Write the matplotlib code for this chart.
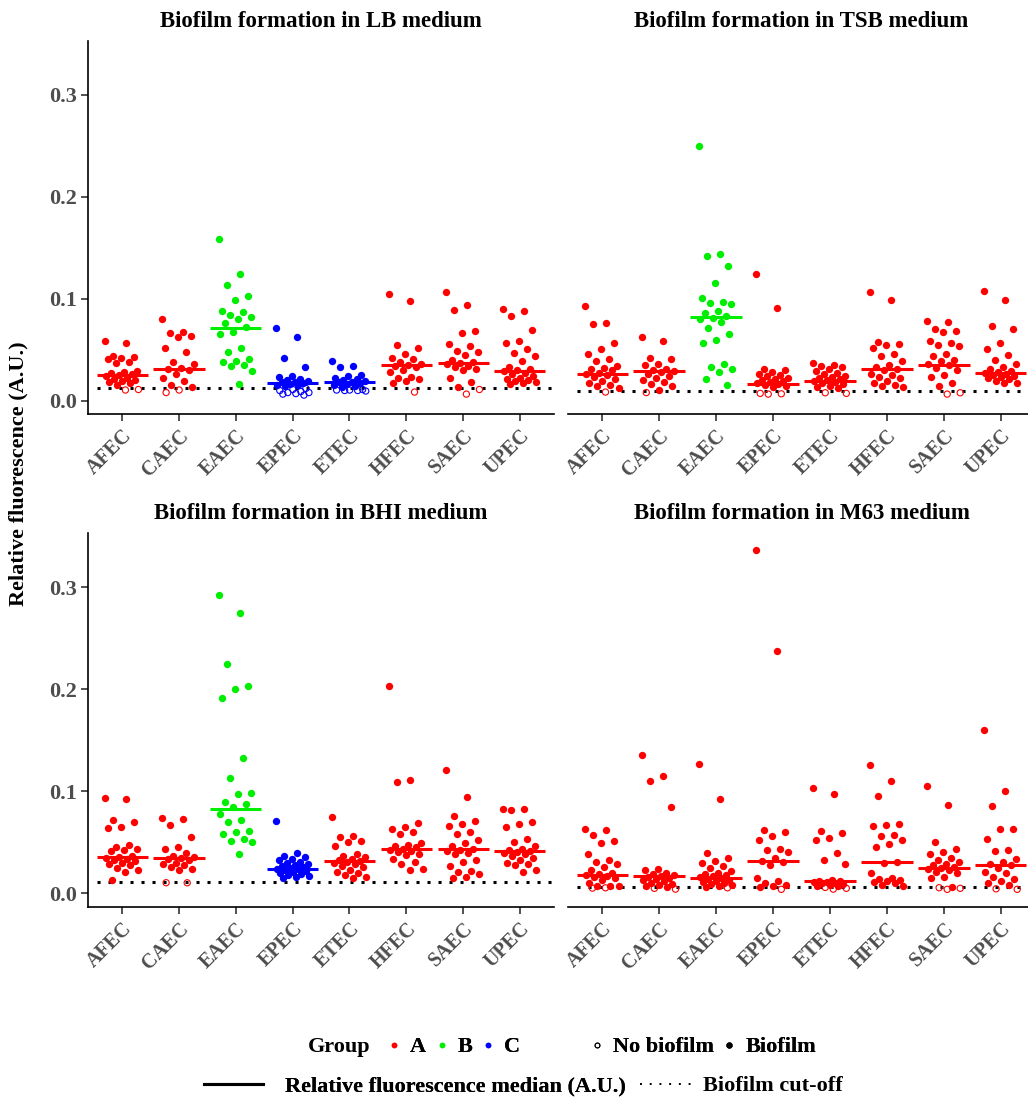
import numpy as np
import matplotlib
matplotlib.use('Agg')
import matplotlib.pyplot as plt
import matplotlib.transforms as mtransforms
from matplotlib.lines import Line2D

plt.rcParams['font.family'] = ['Liberation Serif', 'DejaVu Serif']
plt.rcParams['font.weight'] = 'bold'

categories = ['AFEC', 'CAEC', 'EAEC', 'EPEC', 'ETEC', 'HFEC', 'SAEC', 'UPEC']
group_colors = {'A': '#FF0000', 'B': '#00EE00', 'C': '#0000FF'}

# relative fluorescence per isolate
lb = {
    'AFEC': [0.059, 0.057, 0.044, 0.043, 0.042, 0.041, 0.038, 0.037, 0.029, 0.028, 0.027, 0.026,
             0.025, 0.024, 0.022, 0.021, 0.020, 0.019, 0.018, 0.017, 0.015, 0.011, 0.0105],
    'CAEC': [0.080, 0.067, 0.066, 0.063, 0.062, 0.052, 0.048, 0.038, 0.036, 0.032, 0.031, 0.030,
             0.026, 0.022, 0.019, 0.015, 0.013, 0.0105, 0.008],
    'EAEC': [0.159, 0.124, 0.113, 0.103, 0.099, 0.088, 0.087, 0.084, 0.082, 0.080, 0.076, 0.072,
             0.067, 0.065, 0.052, 0.048, 0.041, 0.039, 0.038, 0.035, 0.034, 0.029, 0.016],
    'EPEC': [0.071, 0.062, 0.042, 0.033, 0.024, 0.023, 0.021, 0.020, 0.019, 0.018, 0.018, 0.017,
             0.016, 0.015, 0.015, 0.014, 0.012, 0.011, 0.010, 0.009, 0.008, 0.008, 0.007, 0.0065, 0.0055],
    'ETEC': [0.039, 0.034, 0.033, 0.025, 0.024, 0.022, 0.021, 0.020, 0.019, 0.018, 0.018, 0.017,
             0.016, 0.015, 0.014, 0.013, 0.011, 0.0105, 0.0105, 0.010, 0.010, 0.0095],
    'HFEC': [0.105, 0.098, 0.055, 0.052, 0.046, 0.042, 0.041, 0.038, 0.036, 0.035, 0.034, 0.033,
             0.030, 0.028, 0.023, 0.022, 0.021, 0.019, 0.017, 0.0085],
    'SAEC': [0.107, 0.094, 0.089, 0.068, 0.066, 0.056, 0.054, 0.049, 0.048, 0.045, 0.040, 0.038,
             0.037, 0.036, 0.034, 0.033, 0.031, 0.030, 0.022, 0.018, 0.013, 0.011, 0.0065],
    'UPEC': [0.090, 0.088, 0.083, 0.069, 0.059, 0.057, 0.051, 0.047, 0.044, 0.039, 0.033, 0.031,
             0.030, 0.029, 0.027, 0.026, 0.024, 0.022, 0.021, 0.020, 0.019, 0.018, 0.017, 0.016],
}
tsb = {
    'AFEC': [0.093, 0.076, 0.075, 0.057, 0.051, 0.046, 0.041, 0.039, 0.034, 0.032, 0.031, 0.030,
             0.027, 0.026, 0.025, 0.023, 0.021, 0.019, 0.017, 0.015, 0.014, 0.012, 0.0085],
    'CAEC': [0.062, 0.059, 0.042, 0.041, 0.036, 0.035, 0.031, 0.030, 0.029, 0.028, 0.026, 0.024,
             0.022, 0.020, 0.018, 0.016, 0.014, 0.011, 0.008],
    'EAEC': [0.250, 0.144, 0.142, 0.132, 0.115, 0.101, 0.097, 0.096, 0.095, 0.088, 0.086, 0.083,
             0.081, 0.080, 0.077, 0.071, 0.065, 0.060, 0.057, 0.036, 0.033, 0.031, 0.028, 0.021, 0.015],
    'EPEC': [0.124, 0.091, 0.031, 0.030, 0.028, 0.026, 0.025, 0.024, 0.022, 0.021, 0.020, 0.019,
             0.018, 0.017, 0.016, 0.015, 0.014, 0.013, 0.0072, 0.0068, 0.0065],
    'ETEC': [0.037, 0.035, 0.034, 0.033, 0.031, 0.029, 0.027, 0.026, 0.024, 0.023, 0.022, 0.021,
             0.020, 0.019, 0.018, 0.017, 0.016, 0.014, 0.013, 0.012, 0.0078, 0.0072],
    'HFEC': [0.107, 0.099, 0.058, 0.056, 0.055, 0.052, 0.046, 0.044, 0.039, 0.035, 0.033, 0.031,
             0.030, 0.026, 0.025, 0.023, 0.022, 0.019, 0.017, 0.015, 0.014, 0.013],
    'SAEC': [0.078, 0.077, 0.070, 0.068, 0.067, 0.059, 0.057, 0.055, 0.054, 0.046, 0.044, 0.040,
             0.039, 0.036, 0.035, 0.032, 0.030, 0.025, 0.023, 0.017, 0.014, 0.0078, 0.0065],
    'UPEC': [0.108, 0.099, 0.073, 0.070, 0.057, 0.051, 0.045, 0.040, 0.036, 0.033, 0.031, 0.029,
             0.028, 0.027, 0.026, 0.025, 0.024, 0.023, 0.022, 0.021, 0.019, 0.017, 0.017],
}
bhi = {
    'AFEC': [0.093, 0.092, 0.072, 0.070, 0.065, 0.064, 0.047, 0.045, 0.044, 0.043, 0.042, 0.037,
             0.036, 0.035, 0.034, 0.033, 0.032, 0.030, 0.029, 0.028, 0.025, 0.023, 0.021, 0.013],
    'CAEC': [0.074, 0.073, 0.067, 0.055, 0.045, 0.044, 0.040, 0.037, 0.036, 0.035, 0.034, 0.033,
             0.030, 0.029, 0.028, 0.026, 0.024, 0.023, 0.0105, 0.0104],
    'EAEC': [0.292, 0.275, 0.225, 0.203, 0.200, 0.191, 0.133, 0.113, 0.098, 0.097, 0.090, 0.088,
             0.085, 0.078, 0.072, 0.070, 0.061, 0.060, 0.058, 0.053, 0.051, 0.050, 0.039],
    'EPEC': [0.071, 0.040, 0.037, 0.036, 0.034, 0.033, 0.031, 0.030, 0.029, 0.028, 0.027, 0.026,
             0.025, 0.024, 0.024, 0.023, 0.022, 0.021, 0.020, 0.019, 0.018, 0.017, 0.016, 0.015],
    'ETEC': [0.075, 0.056, 0.055, 0.051, 0.050, 0.046, 0.039, 0.037, 0.036, 0.034, 0.033, 0.032,
             0.031, 0.030, 0.029, 0.027, 0.026, 0.023, 0.021, 0.020, 0.018, 0.016, 0.015],
    'HFEC': [0.203, 0.111, 0.109, 0.069, 0.065, 0.063, 0.060, 0.058, 0.049, 0.047, 0.046, 0.045,
             0.044, 0.043, 0.042, 0.041, 0.039, 0.038, 0.034, 0.031, 0.029, 0.024, 0.023],
    'SAEC': [0.121, 0.094, 0.076, 0.071, 0.068, 0.066, 0.060, 0.058, 0.052, 0.049, 0.046, 0.044,
             0.043, 0.042, 0.040, 0.039, 0.033, 0.031, 0.027, 0.022, 0.021, 0.019, 0.016, 0.015],
    'UPEC': [0.083, 0.083, 0.082, 0.070, 0.068, 0.065, 0.053, 0.050, 0.046, 0.044, 0.043, 0.042,
             0.041, 0.040, 0.039, 0.037, 0.035, 0.033, 0.030, 0.029, 0.028, 0.023, 0.021],
}
m63 = {
    'AFEC': [0.063, 0.062, 0.057, 0.051, 0.049, 0.039, 0.033, 0.031, 0.029, 0.026, 0.023, 0.020,
             0.019, 0.018, 0.017, 0.016, 0.015, 0.013, 0.010, 0.0075, 0.007, 0.0068, 0.0055, 0.0052],
    'CAEC': [0.136, 0.115, 0.110, 0.085, 0.024, 0.023, 0.020, 0.019, 0.018, 0.017, 0.016, 0.015,
             0.014, 0.013, 0.012, 0.010, 0.009, 0.008, 0.0068, 0.0066, 0.005, 0.0042],
    'EAEC': [0.127, 0.092, 0.040, 0.035, 0.032, 0.030, 0.027, 0.025, 0.022, 0.020, 0.019, 0.018,
             0.017, 0.016, 0.015, 0.014, 0.013, 0.012, 0.011, 0.010, 0.009, 0.008, 0.0068, 0.0066, 0.0055],
    'EPEC': [0.336, 0.237, 0.062, 0.060, 0.056, 0.052, 0.044, 0.043, 0.041, 0.035, 0.032, 0.031,
             0.028, 0.015, 0.012, 0.010, 0.008, 0.007, 0.0066, 0.004],
    'ETEC': [0.103, 0.097, 0.061, 0.059, 0.054, 0.052, 0.040, 0.033, 0.029, 0.013, 0.012, 0.012,
             0.011, 0.011, 0.010, 0.010, 0.009, 0.008, 0.0075, 0.007, 0.0059, 0.005, 0.0042],
    'HFEC': [0.126, 0.110, 0.095, 0.068, 0.067, 0.066, 0.057, 0.056, 0.052, 0.048, 0.045, 0.031,
             0.030, 0.020, 0.015, 0.014, 0.013, 0.012, 0.011, 0.010, 0.008, 0.007],
    'SAEC': [0.105, 0.087, 0.050, 0.044, 0.041, 0.039, 0.035, 0.033, 0.031, 0.029, 0.028, 0.026,
             0.025, 0.024, 0.023, 0.021, 0.020, 0.016, 0.015, 0.0065, 0.0056, 0.005, 0.004],
    'UPEC': [0.160, 0.100, 0.086, 0.063, 0.063, 0.053, 0.043, 0.042, 0.034, 0.031, 0.029, 0.028,
             0.025, 0.021, 0.020, 0.016, 0.014, 0.012, 0.010, 0.008, 0.0045, 0.004],
}

lb_medians = [0.0255, 0.031, 0.0716, 0.017, 0.018, 0.035, 0.037, 0.029]
tsb_medians = [0.026, 0.029, 0.082, 0.016, 0.0196, 0.031, 0.035, 0.027]
bhi_medians = [0.036, 0.035, 0.083, 0.024, 0.032, 0.044, 0.044, 0.042]
m63_medians = [0.018, 0.017, 0.015, 0.032, 0.012, 0.031, 0.025, 0.028]

lb_groups = ['A', 'A', 'B', 'C', 'C', 'A', 'A', 'A']
tsb_groups = ['A', 'A', 'B', 'A', 'A', 'A', 'A', 'A']
bhi_groups = ['A', 'A', 'B', 'C', 'A', 'A', 'A', 'A']
m63_groups = ['A'] * 8

cutoffs = [0.0124, 0.0098, 0.0114, 0.0062]
titles = ['Biofilm formation in LB medium', 'Biofilm formation in TSB medium',
          'Biofilm formation in BHI medium', 'Biofilm formation in M63 medium']

W, H = 1028, 1102
TICK_COLOR = '#4D4D4D'


def px_axes(fig, x0, x1, y0, y1):
    return fig.add_axes([x0 / W, 1 - y1 / H, (x1 - x0) / W, (y1 - y0) / H])


def draw_panel(fig, ax, values, medians, groups, cutoff, title, show_y):
    for i, (cat, grp) in enumerate(zip(categories, groups)):
        v = np.array(values[cat])
        offs = ((np.arange(len(v)) * 0.618034) % 1 - 0.5) * 0.6
        col = group_colors[grp]
        filled = v >= cutoff
        ax.scatter(i + offs[filled], v[filled], s=28, color=col, linewidths=0, zorder=3)
        ax.scatter(i + offs[~filled], v[~filled], s=20, facecolors='none', edgecolors=col,
                   linewidths=0.8, zorder=3)
        ax.plot([i - 0.45, i + 0.45], [medians[i]] * 2, color=col, lw=2.2,
                solid_capstyle='butt', zorder=4)
    ax.axhline(cutoff, xmin=0.02, color='black', lw=2.2, ls=(0, (1, 2.6)),
               dash_capstyle='butt', zorder=2)
    ax.set_xlim(-0.6, 7.6)
    ax.set_ylim(-0.013, 0.353)
    ax.set_xticks(range(len(categories)))
    ax.set_xticklabels(categories, rotation=45, ha='right', rotation_mode='anchor',
                       fontsize=14.5, color=TICK_COLOR)
    shift = mtransforms.ScaledTranslation(7 / 72, 0, fig.dpi_scale_trans)
    for lab in ax.get_xticklabels():
        lab.set_transform(lab.get_transform() + shift)
    ax.set_yticks([0.0, 0.1, 0.2, 0.3])
    ax.set_yticklabels(['0.0', '0.1', '0.2', '0.3'], fontsize=16, color=TICK_COLOR)
    ax.tick_params(length=5, width=1.2, color='#333333')
    ax.tick_params(axis='y', pad=3)
    for s in ['top', 'right']:
        ax.spines[s].set_visible(False)
    ax.spines['bottom'].set_linewidth(1.2)
    ax.spines['left'].set_linewidth(1.2)
    if not show_y:
        ax.spines['left'].set_visible(False)
        ax.tick_params(axis='y', left=False, labelleft=False)
    ax.set_title(title, fontsize=16.5, fontweight='bold', pad=10)


fig = plt.figure(figsize=(W / 100, H / 100), dpi=100)
ax_lb = px_axes(fig, 88, 554, 40.6, 414)
ax_tsb = px_axes(fig, 568, 1035, 40.6, 414)
ax_bhi = px_axes(fig, 88, 554, 533, 906.7)
ax_m63 = px_axes(fig, 568, 1035, 533, 906.7)

draw_panel(fig, ax_lb, lb, lb_medians, lb_groups, cutoffs[0], titles[0], True)
draw_panel(fig, ax_tsb, tsb, tsb_medians, tsb_groups, cutoffs[1], titles[1], False)
draw_panel(fig, ax_bhi, bhi, bhi_medians, bhi_groups, cutoffs[2], titles[2], True)
draw_panel(fig, ax_m63, m63, m63_medians, m63_groups, cutoffs[3], titles[3], False)

fig.text(18 / W, 1 - 474 / H, 'Relative fluorescence (A.U.)', rotation=90,
         ha='center', va='center', fontsize=16, fontweight='bold')

LEG_FS = 16
leg_kw = dict(frameon=False, fontsize=LEG_FS, loc='center left', borderpad=0, borderaxespad=0)

# legend row 1
fig.text(308 / W, 1 - 1047 / H, 'Group', ha='left', va='center', fontsize=LEG_FS,
         fontweight='bold')
grp_handles = [Line2D([], [], ls='none', marker='o', ms=3, color=group_colors[g]) for g in 'ABC']
leg_grp = fig.legend(grp_handles, ['A', 'B', 'C'], ncol=3, bbox_to_anchor=(385 / W, 1 - 1047 / H),
                     handlelength=0.8, handletextpad=0.32, columnspacing=0.3, **leg_kw)
bio_handles = [Line2D([], [], ls='none', marker='o', ms=3.5, mfc='none', mec='black', mew=0.7),
               Line2D([], [], ls='none', marker='o', ms=3.5, color='black')]
leg_bio = fig.legend(bio_handles, ['No biofilm', 'Biofilm'], ncol=2,
                     bbox_to_anchor=(588 / W, 1 - 1047 / H),
                     handlelength=0.8, handletextpad=0.32, columnspacing=0.3, **leg_kw)
# legend row 2
leg_med = fig.legend([Line2D([], [], color='black', lw=2.2)],
                     ['Relative fluorescence median (A.U.)'],
                     bbox_to_anchor=(204 / W, 1 - 1086 / H),
                     handlelength=2.66, handletextpad=1.0, **leg_kw)
leg_cut = fig.legend([Line2D([], [], color='black', lw=1.4, ls=(0, (1, 4)))],
                     ['Biofilm cut-off'],
                     bbox_to_anchor=(640 / W, 1 - 1086 / H),
                     handlelength=2.5, handletextpad=0.35, **leg_kw)
for leg in (leg_grp, leg_bio, leg_med):
    fig.add_artist(leg)

fig.savefig('out.png', dpi=100)
